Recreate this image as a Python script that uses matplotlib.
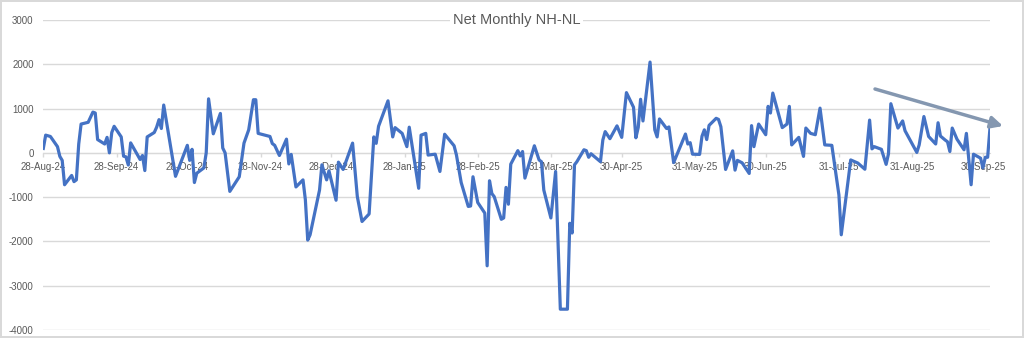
import numpy as np
import pandas as pd
import matplotlib
matplotlib.use('Agg')
import matplotlib.pyplot as plt
import matplotlib.dates as mdates

# daily net new highs minus new lows, one row per month
dates = [
    '2024-08-28', '2024-08-29', '2024-08-31',
    '2024-09-03', '2024-09-04', '2024-09-05', '2024-09-06', '2024-09-09', '2024-09-10', '2024-09-11',
    '2024-09-12', '2024-09-13', '2024-09-16', '2024-09-18', '2024-09-19', '2024-09-20', '2024-09-23',
    '2024-09-24', '2024-09-25', '2024-09-26', '2024-09-27', '2024-09-30',
    '2024-10-01', '2024-10-02', '2024-10-03', '2024-10-04', '2024-10-08', '2024-10-09', '2024-10-10',
    '2024-10-11', '2024-10-14', '2024-10-15', '2024-10-16', '2024-10-17', '2024-10-18', '2024-10-23',
    '2024-10-28', '2024-10-29', '2024-10-30', '2024-10-31',
    '2024-11-01', '2024-11-04', '2024-11-05', '2024-11-06', '2024-11-08', '2024-11-11', '2024-11-12',
    '2024-11-13', '2024-11-15', '2024-11-19', '2024-11-21', '2024-11-23', '2024-11-25', '2024-11-26',
    '2024-11-27',
    '2024-12-02', '2024-12-03', '2024-12-04', '2024-12-06', '2024-12-09', '2024-12-10', '2024-12-11',
    '2024-12-13', '2024-12-16', '2024-12-17', '2024-12-18', '2024-12-19', '2024-12-23', '2024-12-24',
    '2024-12-26', '2024-12-27', '2024-12-30', '2024-12-31',
    '2025-01-02', '2025-01-06', '2025-01-08', '2025-01-10', '2025-01-13', '2025-01-15', '2025-01-16',
    '2025-01-17', '2025-01-21', '2025-01-23', '2025-01-24', '2025-01-27', '2025-01-29', '2025-01-30',
    '2025-02-03', '2025-02-04', '2025-02-06', '2025-02-07', '2025-02-10', '2025-02-12', '2025-02-14',
    '2025-02-18', '2025-02-19', '2025-02-21', '2025-02-24', '2025-02-25', '2025-02-26', '2025-02-28',
    '2025-03-03', '2025-03-04', '2025-03-05', '2025-03-06', '2025-03-07', '2025-03-10', '2025-03-11',
    '2025-03-12', '2025-03-13', '2025-03-14', '2025-03-17', '2025-03-18', '2025-03-19', '2025-03-20',
    '2025-03-24', '2025-03-26', '2025-03-27', '2025-03-28', '2025-03-31',
    '2025-04-02', '2025-04-04', '2025-04-07', '2025-04-08', '2025-04-09', '2025-04-10', '2025-04-11',
    '2025-04-14', '2025-04-15', '2025-04-16', '2025-04-17', '2025-04-21', '2025-04-22', '2025-04-23',
    '2025-04-25', '2025-04-28', '2025-04-30',
    '2025-05-02', '2025-05-05', '2025-05-06', '2025-05-07', '2025-05-08', '2025-05-09', '2025-05-12',
    '2025-05-14', '2025-05-15', '2025-05-16', '2025-05-19', '2025-05-20', '2025-05-22', '2025-05-27',
    '2025-05-28', '2025-05-29', '2025-05-30',
    '2025-06-02', '2025-06-03', '2025-06-04', '2025-06-05', '2025-06-06', '2025-06-09', '2025-06-10',
    '2025-06-11', '2025-06-13', '2025-06-16', '2025-06-17', '2025-06-18', '2025-06-20', '2025-06-23',
    '2025-06-24', '2025-06-25', '2025-06-27', '2025-06-30',
    '2025-07-01', '2025-07-02', '2025-07-03', '2025-07-07', '2025-07-09', '2025-07-10', '2025-07-11',
    '2025-07-14', '2025-07-16', '2025-07-17', '2025-07-19', '2025-07-21', '2025-07-23', '2025-07-25',
    '2025-07-28', '2025-07-31',
    '2025-08-01', '2025-08-05', '2025-08-08', '2025-08-11', '2025-08-13', '2025-08-14', '2025-08-15',
    '2025-08-18', '2025-08-20', '2025-08-21', '2025-08-22', '2025-08-25', '2025-08-27', '2025-08-28',
    '2025-09-02', '2025-09-03', '2025-09-05', '2025-09-07', '2025-09-10', '2025-09-11', '2025-09-12',
    '2025-09-14', '2025-09-15', '2025-09-16', '2025-09-17', '2025-09-19', '2025-09-22', '2025-09-23',
    '2025-09-25', '2025-09-26', '2025-09-29', '2025-09-30',
    '2025-10-01', '2025-10-02', '2025-10-03',
]

net_nh_nl = [
    100, 400, 370,
    140, -80, -170, -720, -510, -650, -610, 200, 650, 690, 920, 900, 300, 200, 350, 0, 460, 600, 360,
    -75, -90, -275, 225, -150, -60, -400, 360, 460, 580, 750, 550, 1080, -530, 170, -170, 80, -670,
    -460, -340, 0, 1220, 430, 890, 110, 0, -870, -540, 220, 520, 1200, 1200, 440,
    370, 210, 170, -60, 310, -250, -35, -770, -610, -1060, -1970, -1850, -840, -270, -610, -405, -1070, -210,
    -375, 220, -985, -1550, -1380, 360, 215, 600, 1175, 360, 570, 440, 140, 580,
    -800, 400, 440, -50, -30, -420, 420, 160, -50, -670, -1210, -1200, -540, -1120,
    -1360, -2550, -630, -920, -990, -1500, -1470, -780, -1160, -255, 50, -70, 30, -570, 160, -160, -200, -840, -1470,
    -420, -3530, -3530, -1590, -1810, -270, -200, 70, 50, -100, -20, -200, 290, 480, 320, 610, 350,
    1360, 1030, 340, 575, 1210, 720, 2050, 520, 360, 765, 550, 585, -220, 425, 200, 230, -30,
    -35, 375, 520, 300, 620, 780, 755, 590, -375, 45, -390, -170, -225, -465, 615, 140, 650, 410,
    1050, 900, 1350, 570, 650, 1050, 180, 350, -80, 560, 440, 410, 1010, 180, 170, -950,
    -1850, -160, -230, -370, 740, 90, 140, 80, -260, -20, 1110, 560, 720, 500,
    10, 180, 820, 370, 200, 680, 380, 290, 250, 30, 560, 310, 70, 440, -720, -30, -120, -340,
    -100, -100, 570,
]

# monthly label positions on the date axis
tick_dates = ['2024-08-28', '2024-09-28', '2024-10-28', '2024-11-28', '2024-12-28',
              '2025-01-28', '2025-02-28', '2025-03-31', '2025-04-30', '2025-05-31',
              '2025-06-30', '2025-07-31', '2025-08-31', '2025-09-30']
y_ticks = [-4000, -3000, -2000, -1000, 0, 1000, 2000, 3000]

x = pd.to_datetime(dates)
grey_txt = '#595959'
grid_col = '#d9d9d9'
plt.rcParams['font.family'] = ['Liberation Sans', 'DejaVu Sans']
plt.rcParams['axes.unicode_minus'] = False

fig = plt.figure(figsize=(10.24, 3.38), dpi=100, edgecolor=grid_col, linewidth=1.5)
ax = fig.add_axes([0.0423, 0.0237, 0.9245, 0.9171])

ax.plot(x, net_nh_nl, color='#4472C4', lw=2.3, zorder=3, solid_joinstyle='round')

ax.set_ylim(-4000, 3000)
ax.set_yticks(y_ticks)
ax.set_xlim(x[0], x[-1])
ax.set_xticks(pd.to_datetime(tick_dates))
ax.xaxis.set_major_formatter(mdates.DateFormatter('%d-%b-%y'))

ax.grid(axis='y', color=grid_col, lw=1)
for s in ['top', 'left', 'right']:
    ax.spines[s].set_visible(False)
ax.spines['bottom'].set_position(('data', 0))
ax.spines['bottom'].set_color(grid_col)
ax.tick_params(axis='y', length=0, pad=7, labelsize=7, labelcolor=grey_txt)
ax.tick_params(axis='x', length=3, width=1, color=grid_col, pad=3.5,
               labelsize=7, labelcolor=grey_txt)

# title sits on the top gridline with a white box behind it
ax.text(0.5, 1.0, 'Net Monthly NH-NL', transform=ax.transAxes, ha='center', va='center',
        fontsize=10.5, color=grey_txt, zorder=4,
        bbox=dict(facecolor='white', edgecolor='none', pad=2))

# trend arrow drawn over the last stretch
ax.annotate('', xy=(0.9795, 0.6272), xytext=(0.8545, 0.7367),
            xycoords='figure fraction', textcoords='figure fraction',
            arrowprops=dict(arrowstyle='-|>,head_length=0.7,head_width=0.35',
                            color='#8497B0', lw=2.5, shrinkA=0, shrinkB=0),
            annotation_clip=False, zorder=5)

plt.savefig('out.png', dpi=100)
